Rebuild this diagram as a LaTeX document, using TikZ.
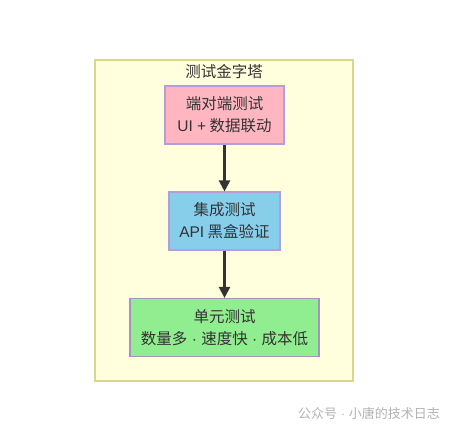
\documentclass[tikz,border=0pt]{standalone}
\usepackage{fontspec}
\setmainfont{Noto Sans CJK SC}
\newfontfamily\latin{Liberation Sans}
\usetikzlibrary{arrows.meta}
\definecolor{clusterfill}{HTML}{FFFFDE}
\definecolor{clusterline}{HTML}{D8D88C}
\definecolor{pinkfill}{HTML}{FFB6C1}
\definecolor{bluefill}{HTML}{87CEEB}
\definecolor{greenfill}{HTML}{90EE90}
\definecolor{nodeline}{HTML}{B49EDA}
\definecolor{textdark}{HTML}{333333}
\newcommand{\sepdot}{{\latin\ ·\ }}
\begin{document}
\begin{tikzpicture}[x=1pt, y=1pt, font=\fontsize{15.5}{22}\selectfont, text=textdark,
  layer/.style={draw=nodeline, line width=1.1pt, align=center, minimum height=58pt, inner sep=0pt},
  e2elayer/.style={layer, fill=pinkfill, minimum width=119pt},
  apilayer/.style={layer, fill=bluefill, minimum width=111pt},
  unitlayer/.style={layer, fill=greenfill, draw=nodeline!70!gray, minimum width=189pt},
  flow/.style={-{Triangle[width=11pt,length=11pt]}, draw=textdark, line width=2.2pt}]

\useasboundingbox (0, 0) rectangle (453, 432);

\node[draw=clusterline, fill=clusterfill, line width=1.6pt, minimum width=258pt, minimum height=321pt, inner sep=0pt] (pyramid) at (224, 211.5) {};
\node (title) at (224, 360) {测试金字塔};

\node[e2elayer] (e2e) at (224.5, 317) {端对端测试\\{\latin UI +} 数据联动};
\node[apilayer] (api) at (224.5, 211) {集成测试\\{\latin API} 黑盒验证};
\node[unitlayer] (unit) at (224.5, 104.5) {单元测试\\数量多\sepdot 速度快\sepdot 成本低};

\node[text=gray!60, font=\fontsize{13}{15}\selectfont] (mark) at (369, 19) {公众号{\latin\ ·\ }小唐的技术日志};

\draw [flow] (e2e) -- (api);
\draw [flow] (api) -- (unit);

\end{tikzpicture}
\end{document}
